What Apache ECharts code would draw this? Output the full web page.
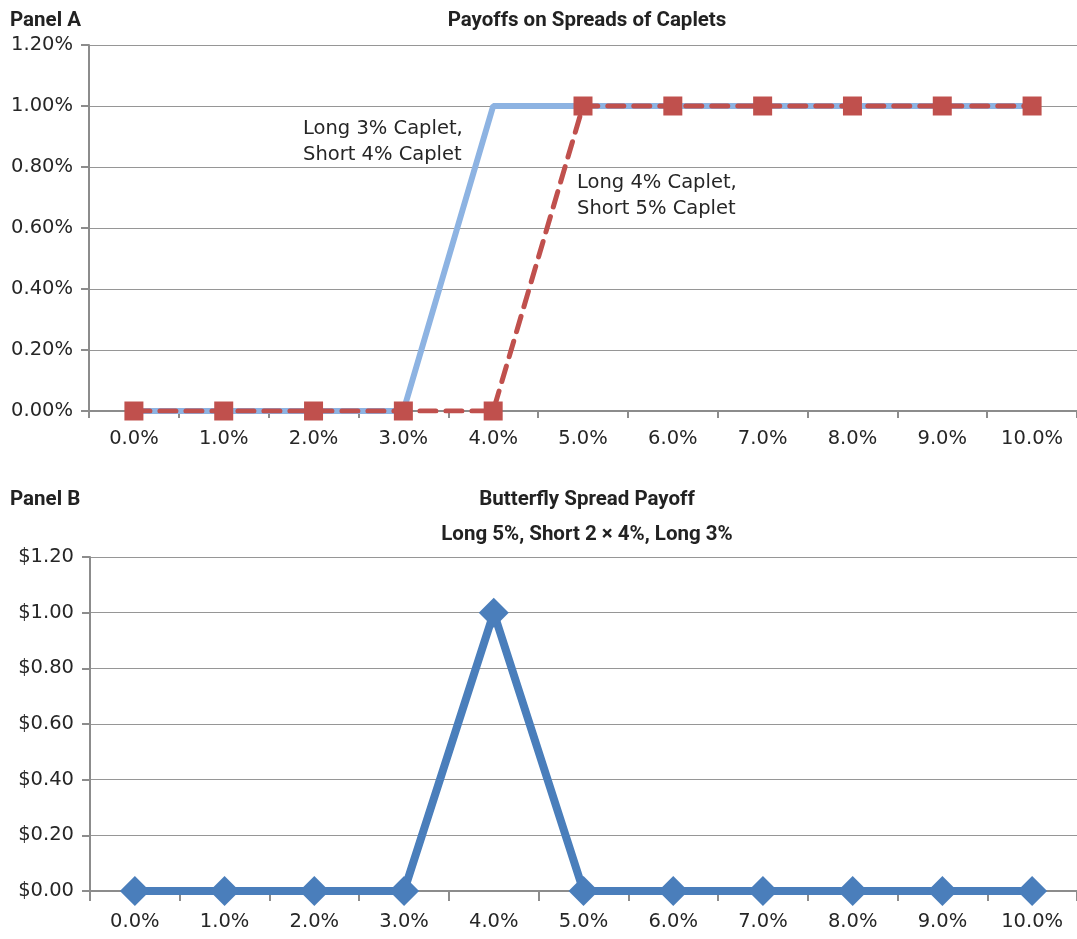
<!DOCTYPE html>
<html>
<head>
<meta charset="utf-8">
<script src="https://cdn.jsdelivr.net/npm/echarts@6/dist/echarts.min.js"></script>
<style>
  html, body { margin: 0; padding: 0; background: #fff; }
  #chart { width: 1077px; height: 939px; }
</style>
</head>
<body>
<div id="chart"></div>
<script>
// Interest rate at expiry (x axis categories, shared by both panels)
const rates = ['0.0%', '1.0%', '2.0%', '3.0%', '4.0%', '5.0%', '6.0%', '7.0%', '8.0%', '9.0%', '10.0%'];

// Panel A: payoff of caplet spreads, in percent of notional
const spread34 = [0, 0, 0, 0, 1.00, 1.00, 1.00, 1.00, 1.00, 1.00, 1.00];
const spread45 = [0, 0, 0, 0, 0, 1.00, 1.00, 1.00, 1.00, 1.00, 1.00];

// Panel B: butterfly spread payoff, in dollars
const butterfly = [0, 0, 0, 0, 1.00, 0, 0, 0, 0, 0, 0];

// Axis tick values
const pctTicks = { min: 0, max: 1.2, interval: 0.2 };
const dollarTicks = { min: 0, max: 1.2, interval: 0.2 };

const tickFont = 'DejaVu Sans';
const headFont = 'Roboto';
const axisGray = '#8c8c8c';
const gridGray = '#969696';

function catAxis(gridIndex, tickLen, margin) {
  return {
    type: 'category',
    gridIndex: gridIndex,
    data: rates,
    boundaryGap: true,
    axisLine: { lineStyle: { color: axisGray, width: 2 } },
    axisTick: { show: true, alignWithLabel: false, length: tickLen, lineStyle: { color: axisGray, width: 2 } },
    axisLabel: { color: '#262626', fontFamily: tickFont, fontSize: 19.5, margin: margin },
    splitLine: { show: false }
  };
}

function valAxis(gridIndex, ticks, fmt) {
  return {
    type: 'value',
    gridIndex: gridIndex,
    min: ticks.min,
    max: ticks.max,
    interval: ticks.interval,
    axisLine: { show: true, lineStyle: { color: axisGray, width: 2 } },
    axisTick: { show: true, length: 8, lineStyle: { color: axisGray, width: 2 } },
    axisLabel: { color: '#262626', fontFamily: tickFont, fontSize: 19.5, margin: 16, formatter: fmt },
    splitLine: { show: true, lineStyle: { color: gridGray, width: 1.2 } }
  };
}

const headStyle = { fontFamily: headFont, fontWeight: 'bold', fontSize: 20.5, color: '#222' };

const chart = echarts.init(document.getElementById('chart'), null, { renderer: 'canvas' });

chart.setOption({
  animation: false,
  backgroundColor: '#ffffff',
  title: [
    { text: 'Panel A', left: 5, top: 5, textStyle: headStyle },
    { text: 'Payoffs on Spreads of Caplets', left: 582, top: 5, textAlign: 'center', textStyle: headStyle },
    { text: 'Panel B', left: 5, top: 484, textStyle: headStyle },
    { text: 'Butterfly Spread Payoff', left: 582, top: 484, textAlign: 'center', textStyle: headStyle },
    { text: 'Long 5%, Short 2 \u00d7 4%, Long 3%', left: 582, top: 519, textAlign: 'center', textStyle: headStyle }
  ],
  grid: [
    { left: 89, top: 45, width: 990, height: 366, containLabel: false },
    { left: 90, top: 557, width: 990, height: 334, containLabel: false }
  ],
  xAxis: [catAxis(0, 7, 18), catAxis(1, 10, 21)],
  yAxis: [
    valAxis(0, pctTicks, v => v.toFixed(2) + '%'),
    valAxis(1, dollarTicks, v => '$' + v.toFixed(2))
  ],
  graphic: [
    { type: 'text', left: 303, top: 116, style: { text: 'Long 3% Caplet,\nShort 4% Caplet', font: '19.5px "DejaVu Sans"', fill: '#262626', lineHeight: 26 } },
    { type: 'text', left: 577, top: 170, style: { text: 'Long 4% Caplet,\nShort 5% Caplet', font: '19.5px "DejaVu Sans"', fill: '#262626', lineHeight: 26 } }
  ],
  series: [
    {
      name: 'Long 3% Caplet, Short 4% Caplet',
      type: 'line',
      xAxisIndex: 0, yAxisIndex: 0,
      data: spread34,
      showSymbol: false,
      symbol: 'none',
      lineStyle: { color: '#8db3e2', width: 6 },
      z: 2
    },
    {
      name: 'Long 4% Caplet, Short 5% Caplet',
      type: 'line',
      xAxisIndex: 0, yAxisIndex: 0,
      data: spread45,
      symbol: 'rect',
      symbolSize: 19,
      itemStyle: { color: '#c0504d' },
      lineStyle: { color: '#c0504d', width: 5, type: [16, 10], cap: 'round' },
      z: 3
    },
    {
      name: 'Butterfly',
      type: 'line',
      xAxisIndex: 1, yAxisIndex: 1,
      data: butterfly,
      symbol: 'diamond',
      symbolSize: 30,
      itemStyle: { color: '#4a7ebb' },
      lineStyle: { color: '#4a7ebb', width: 8 },
      z: 3
    }
  ]
});
</script>
</body>
</html>
